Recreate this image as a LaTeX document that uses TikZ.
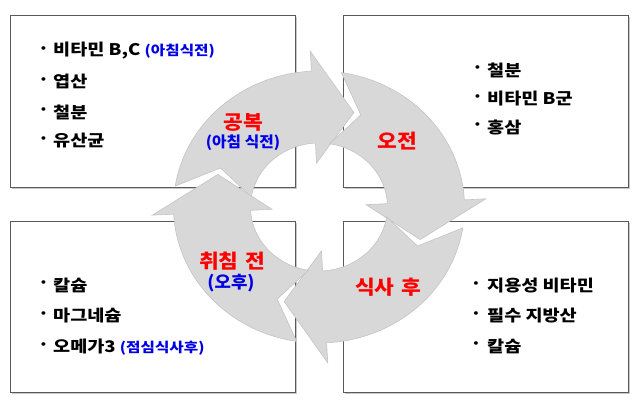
\documentclass[tikz,border=0pt]{standalone}
\usepackage{fontspec}
\newfontfamily\kritem{Noto Sans CJK KR}[FakeStretch=1.16, WordSpace=1.3]
\newfontfamily\krnote{Noto Sans CJK KR}[FakeStretch=1.16]
\newfontfamily\krlbl{Noto Sans CJK KR}[FakeStretch=1.1, WordSpace=1.3]
\newfontfamily\krsub{Noto Sans CJK KR}[FakeStretch=1.05]
\definecolor{arrowgray}{RGB}{216,216,216}
\definecolor{arrowedge}{RGB}{196,196,196}
\definecolor{boxline}{RGB}{90,90,90}
\definecolor{boxshadow}{RGB}{200,200,200}
\definecolor{lblred}{RGB}{255,0,0}
\definecolor{lblblue}{RGB}{0,0,230}
\newcommand{\bluenote}[1]{\textcolor{lblblue}{\krnote\bfseries\fontsize{13.5}{13.5}\selectfont #1}}
\tikzset{
  infobox/.style={draw=boxline, line width=0.8pt, fill=white},
  shadowbox/.style={draw=boxshadow, line width=1.2pt},
  arrowshape/.style={fill=arrowgray, draw=arrowedge, line width=0.6pt, line join=miter},
  bul/.style={inner sep=0pt, font=\kritem\bfseries\fontsize{16}{16}\selectfont},
  item/.style={anchor=west, inner sep=0pt, font=\kritem\bfseries\fontsize{16}{16}\selectfont},
  biglbl/.style={inner sep=0pt, text=lblred, font=\krlbl\bfseries\fontsize{19.5}{19.5}\selectfont},
  sublbl/.style={inner sep=0pt, text=lblblue, font=\krsub\bfseries\fontsize{15}{15}\selectfont},
}
\newcommand{\cycarrow}[1]{%
  \pgfmathsetmacro{\tailang}{#1+90-0.357*22-4}%
  \pgfmathsetmacro{\tipang}{#1-22}%
  \pgfmathsetmacro{\notchang}{#1+90-22-4}%
  \path[arrowshape] (\tailang:136)
    -- plot[domain=\tailang:#1, samples=40, variable=\t] (\t:136)
    -- (#1:156) -- (\tipang:100) -- (#1:44)
    -- plot[domain=#1:\tailang, samples=40, variable=\t] (\t:64)
    -- (\notchang:100) -- cycle;
}
\begin{document}
\begin{tikzpicture}[x=1pt, y=-1pt]
\useasboundingbox (0,0) rectangle (640,403);
% boxes with light shadow
\foreach \xa/\ya/\xb/\yb in {10.5/15.5/295.5/187, 343.5/15.5/628.5/187, 10.5/221.5/295.5/392.5, 343.5/221.5/628.5/392.5}{
  \draw[shadowbox] (\xa+1.5,\yb+1.2) -- (\xb+1.2,\yb+1.2) -- (\xb+1.2,\ya+1.5);
  \draw[infobox] (\xa,\ya) rectangle (\xb,\yb);
}
% top-left box
\node[bul] (b1) at (43.5,51) {·};
\node[item] (t1) at (53,51) {비타민 B,C \bluenote{(아침식전)}};
\node[bul] (b2) at (43.5,81.5) {·};
\node[item] (t2) at (53,81.5) {엽산};
\node[bul] (b3) at (43.5,112) {·};
\node[item] (t3) at (53,112) {철분};
\node[bul] (b4) at (43.5,141) {·};
\node[item] (t4) at (53,141) {유산균};
% top-right box
\node[bul] (b5) at (477.5,70) {·};
\node[item] (t5) at (487,70) {철분};
\node[bul] (b6) at (477.5,98.5) {·};
\node[item] (t6) at (487,98.5) {비타민 B군};
\node[bul] (b7) at (477.5,127) {·};
\node[item] (t7) at (487,127) {홍삼};
% bottom-left box
\node[bul] (b8) at (43.5,285) {·};
\node[item] (t8) at (53,285) {칼슘};
\node[bul] (b9) at (43.5,316) {·};
\node[item] (t9) at (53,316) {마그네슘};
\node[bul] (b10) at (43.5,347) {·};
\node[item] (t10) at (53,347) {오메가3 \bluenote{(점심식사후)}};
% bottom-right box
\node[bul] (b11) at (476,286) {·};
\node[item] (t11) at (487,286) {지용성 비타민};
\node[bul] (b12) at (476,316) {·};
\node[item] (t12) at (487,316) {필수 지방산};
\node[bul] (b13) at (476,346) {·};
\node[item] (t13) at (487,346) {칼슘};
% circular arrows
\begin{scope}[shift={(319,207)}, yscale=-1, xscale=1.07]
  \foreach \b in {93,3,-87,-177}{\cycarrow{\b}}
\end{scope}
% labels
\node[biglbl] (l1) at (243,122) {공복};
\node[sublbl] (l1s) at (243,143) {(아침 식전)};
\node[biglbl] (l2) at (397,141) {오전};
\node[biglbl] (l3) at (388,287) {식사 후};
\node[biglbl] (l4) at (232,261) {취침 전};
\node[sublbl, font=\krsub\bfseries\fontsize{17}{17}\selectfont] (l4s) at (231,283) {(오후)};
\end{tikzpicture}
\end{document}
